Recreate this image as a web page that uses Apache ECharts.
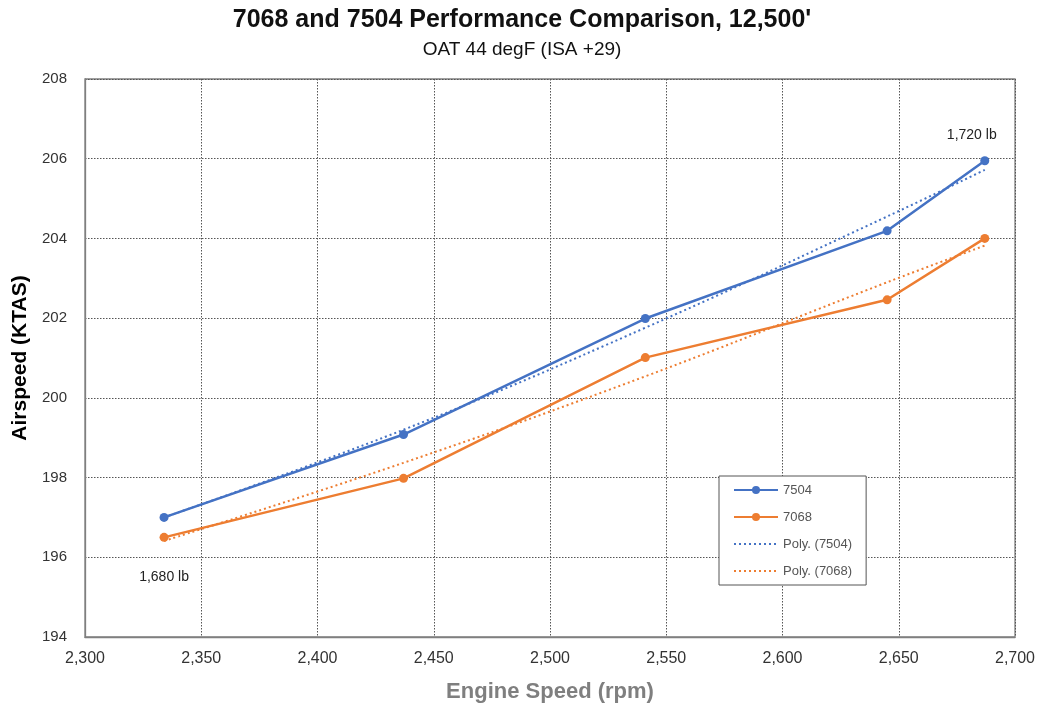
<!DOCTYPE html>
<html>
<head>
<meta charset="utf-8">
<script src="https://cdn.jsdelivr.net/npm/echarts@6/dist/echarts.min.js"></script>
<style>html,body{margin:0;padding:0;background:#fff}#c{width:1044px;height:708px}</style>
</head>
<body>
<div id="c"></div>
<script>
// ---- data ----
const rpm = [2334, 2437, 2541, 2645, 2687];
const kt7504 = [197.0, 199.08, 201.99, 204.19, 205.95];
const kt7068 = [196.5, 197.98, 201.01, 202.46, 204.0];
const poly7504 = [197.0, 199.2, 201.76, 204.55, 205.72];
const poly7068 = [196.41, 198.37, 200.54, 202.9, 203.82];
const seriesNames = ['7504', '7068', 'Poly. (7504)', 'Poly. (7068)'];
const xTicks = [2300, 2700, 50];
const yTicks = [194, 208, 2];
const weightLabels = ['1,680 lb', '1,720 lb'];

const BLUE = '#4472C4', ORANGE = '#ED7D31';
const pts = (xs, ys) => xs.map((x, i) => [x, ys[i]]);

const d7504 = pts(rpm, kt7504);
const d7068 = pts(rpm, kt7068);
const annFont = { color: '#222', fontSize: 14, fontFamily: 'Liberation Sans Narrow, Liberation Sans' };
// weight annotations attached to data points
d7068[0] = { value: d7068[0], label: Object.assign({ show: true, formatter: weightLabels[0], position: 'bottom', distance: 28 }, annFont) };
d7504[4] = { value: d7504[4], label: Object.assign({ show: true, formatter: weightLabels[1], position: 'top', distance: 14, offset: [-13, 0] }, annFont) };

const chart = echarts.init(document.getElementById('c'));
chart.setOption({
  animation: false,
  title: {
    text: "7068 and 7504 Performance Comparison, 12,500'",
    subtext: 'OAT 44 degF (ISA +29)',
    left: 'center', top: 3, itemGap: 7,
    textStyle: { fontFamily: 'Liberation Sans Narrow, Liberation Sans', fontWeight: 'bold', fontSize: 25, color: '#111' },
    subtextStyle: { fontFamily: 'Liberation Sans Narrow, Liberation Sans', fontSize: 19, color: '#111' }
  },
  grid: { left: 85, right: 29, top: 79, bottom: 70, show: true, borderColor: '#7f7f7f', borderWidth: 1.3, backgroundColor: 'transparent' },
  legend: {
    orient: 'vertical', left: 719, top: 476, itemGap: 13, itemWidth: 44, itemHeight: 10,
    padding: [7, 14, 7, 14],
    borderColor: '#555', borderWidth: 1, backgroundColor: '#fff',
    textStyle: { fontFamily: 'Liberation Sans Narrow, Liberation Sans', fontSize: 13, color: '#555', lineHeight: 14 },
    data: [
      { name: seriesNames[0] },
      { name: seriesNames[1] },
      { name: seriesNames[2], itemStyle: { opacity: 0 } },
      { name: seriesNames[3], itemStyle: { opacity: 0 } }
    ]
  },
  xAxis: {
    type: 'value', min: xTicks[0], max: xTicks[1], interval: xTicks[2],
    name: 'Engine Speed (rpm)', nameLocation: 'middle', nameGap: 44,
    nameTextStyle: { fontFamily: 'Liberation Sans Narrow, Liberation Sans', fontWeight: 'bold', fontSize: 22, color: '#7f7f7f' },
    axisLine: { show: true, lineStyle: { color: '#7f7f7f', width: 1.3 } },
    axisTick: { show: false },
    axisLabel: { margin: 14, fontFamily: 'Liberation Sans Narrow, Liberation Sans', fontSize: 16, color: '#333',
      formatter: v => v.toLocaleString('en-US') },
    splitLine: { show: true, lineStyle: { color: '#555', type: [1.5, 1.5], width: 1 } }
  },
  yAxis: {
    type: 'value', min: yTicks[0], max: yTicks[1], interval: yTicks[2],
    name: 'Airspeed (KTAS)', nameLocation: 'middle', nameGap: 46,
    nameTextStyle: { fontFamily: 'Liberation Sans', fontWeight: 'bold', fontSize: 21, color: '#000' },
    axisLine: { show: true, lineStyle: { color: '#7f7f7f', width: 1.3 } },
    axisTick: { show: false },
    axisLabel: { margin: 18, fontFamily: 'Liberation Sans', fontSize: 15, color: '#333' },
    splitLine: { show: true, lineStyle: { color: '#555', type: [1.5, 1.5], width: 1 } }
  },
  series: [
    { name: seriesNames[0], type: 'line', data: d7504, color: BLUE, symbol: 'circle', symbolSize: 9,
      lineStyle: { width: 2.5, color: BLUE }, itemStyle: { color: BLUE }, z: 4 },
    { name: seriesNames[1], type: 'line', data: d7068, color: ORANGE, symbol: 'circle', symbolSize: 9,
      lineStyle: { width: 2.5, color: ORANGE }, itemStyle: { color: ORANGE }, z: 4 },
    { name: seriesNames[2], type: 'line', data: pts(rpm, poly7504), color: BLUE, symbol: 'none', smooth: 0.4,
      lineStyle: { width: 2, color: BLUE, type: [2, 3] }, z: 3 },
    { name: seriesNames[3], type: 'line', data: pts(rpm, poly7068), color: ORANGE, symbol: 'none', smooth: 0.4,
      lineStyle: { width: 2, color: ORANGE, type: [2, 3] }, z: 3 }
  ]
});
</script>
</body>
</html>
